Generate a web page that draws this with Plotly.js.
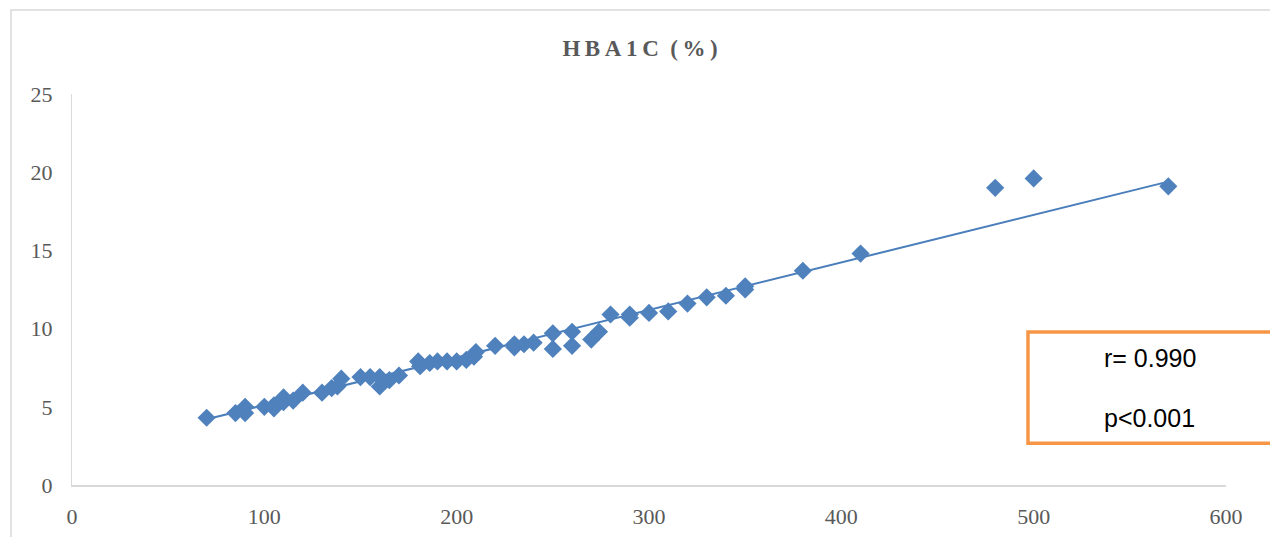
<!DOCTYPE html>
<html>
<head>
<meta charset="utf-8">
<script src="https://cdn.plot.ly/plotly-3.0.1.min.js"></script>
<style>html,body{margin:0;padding:0;background:#fff;}#chart{width:1270px;height:537px;}</style>
</head>
<body>
<div id="chart"></div>
<script>
// Data
const glucose = [70, 85, 90, 90, 100, 105, 105, 110, 110, 115, 120, 130, 135, 138, 140, 150, 155, 160, 160, 165, 170,
  180, 181, 186, 190, 195, 200, 205, 209, 210, 220, 230, 230, 235, 240, 250, 250, 260, 260, 270, 274,
  280, 290, 290, 300, 310, 320, 330, 340, 350, 350, 380, 410, 480, 500, 570];
const hba1c = [4.3, 4.6, 5.0, 4.6, 5.0, 5.1, 4.9, 5.6, 5.3, 5.4, 5.9, 5.9, 6.2, 6.3, 6.8, 6.9, 6.9, 6.9, 6.3, 6.7, 7.0,
  7.9, 7.6, 7.8, 7.9, 7.9, 7.9, 8.0, 8.2, 8.5, 8.9, 8.8, 9.0, 9.0, 9.1, 9.7, 8.7, 9.8, 8.9, 9.3, 9.8,
  10.9, 10.9, 10.7, 11.0, 11.1, 11.6, 12.0, 12.1, 12.7, 12.5, 13.7, 14.8, 19.0, 19.6, 19.1];
// Trendline as drawn in the reference
const trendIntercept = 2.07;
const trendSlope = 0.0304;
const xTicks = [0, 100, 200, 300, 400, 500, 600];
const yTicks = [0, 5, 10, 15, 20, 25];
const chartTitle = "H\u2009B\u2009A\u20091\u2009C\u2002(\u2009%\u2009)";
const statLines = ["r= 0.990", "p<0.001"];

const xMin = Math.min(...glucose), xMax = Math.max(...glucose);
const trendX = [xMin, xMax];
const trendY = trendX.map(v => trendIntercept + trendSlope * v);

const blue = "#4f81bd";
const traces = [
  { x: trendX, y: trendY, mode: "lines", type: "scatter", line: { color: "#4a7ebb", width: 2 }, hoverinfo: "skip", showlegend: false },
  { x: glucose, y: hba1c, mode: "markers", type: "scatter", marker: { symbol: "diamond", size: 14, color: blue }, showlegend: false }
];

const tickFont = { family: "Liberation Serif, Times New Roman, serif", size: 22, color: "#595959" };
const layout = {
  width: 1270, height: 537,
  margin: { l: 72, r: 44, t: 94, b: 52 },
  paper_bgcolor: "#ffffff", plot_bgcolor: "#ffffff",
  title: { text: chartTitle, x: 0.504, xanchor: "center", y: 0.91, yanchor: "middle",
    font: { family: "Liberation Serif, Times New Roman, serif", size: 23, color: "#595959", weight: "bold" } },
  xaxis: { range: [0, 600], tickvals: xTicks, ticktext: xTicks.map(String), showgrid: false, zeroline: false,
    showline: true, linecolor: "#d9d9d9", linewidth: 1.5, ticks: "", tickfont: tickFont, ticklabelstandoff: 11, fixedrange: true },
  yaxis: { range: [0, 25], tickvals: yTicks, ticktext: yTicks.map(String), showgrid: false, zeroline: false,
    showline: true, linecolor: "#d9d9d9", linewidth: 1, ticks: "", tickfont: tickFont, ticklabelstandoff: 14, fixedrange: true },
  shapes: [
    { type: "rect", xref: "paper", yref: "paper", x0: -0.0529, x1: 1.06, y0: -0.16, y1: 1.2148,
      line: { color: "#d9d9d9", width: 1.5 }, fillcolor: "rgba(0,0,0,0)", layer: "below" },
    { type: "rect", xref: "paper", yref: "paper", x0: 0.8284, x1: 1.06, y0: 0.107, y1: 0.3913,
      line: { color: "#f79646", width: 3.5 }, fillcolor: "rgba(0,0,0,0)" }
  ],
  annotations: [
    { xref: "paper", yref: "paper", x: 0.934, y: 0.324, text: statLines[0], showarrow: false,
      font: { family: "Liberation Sans, Arial, sans-serif", size: 25, color: "#000" }, xanchor: "center", yanchor: "middle" },
    { xref: "paper", yref: "paper", x: 0.934, y: 0.171, text: statLines[1], showarrow: false,
      font: { family: "Liberation Sans, Arial, sans-serif", size: 25, color: "#000" }, xanchor: "center", yanchor: "middle" }
  ]
};
Plotly.newPlot("chart", traces, layout, { displayModeBar: false, staticPlot: true });
</script>
</body>
</html>
